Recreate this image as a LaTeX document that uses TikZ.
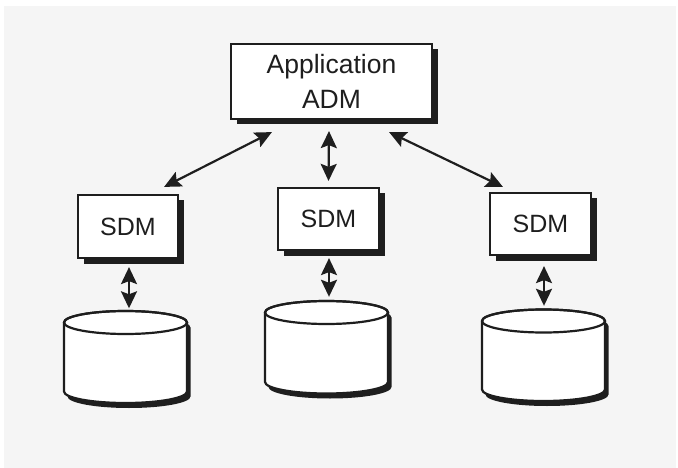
\documentclass[tikz,border=0pt]{standalone}
\usepackage{fontspec}
\setmainfont{Liberation Sans}
\usetikzlibrary{arrows.meta,shadows}
\definecolor{bggray}{HTML}{F5F5F5}
\definecolor{ink}{HTML}{1E1E1E}
\newcommand\dbshape[3]{%
  \fill[ink] ({#1-61.5+3.5},{#2+5}) -- ({#1-61.5+3.5},{#3+5})
    arc[start angle=180,end angle=0,x radius=61.5,y radius=11.5]
    -- ({#1+61.5+3.5},{#2+5})
    arc[start angle=0,end angle=-180,x radius=61.5,y radius=11.5] -- cycle;
  \filldraw[fill=white,draw=ink,line width=2.2pt] ({#1-61.5},#2) -- ({#1-61.5},#3)
    arc[start angle=180,end angle=0,x radius=61.5,y radius=11.5]
    -- ({#1+61.5},#2)
    arc[start angle=0,end angle=-180,x radius=61.5,y radius=11.5] -- cycle;
  \draw[ink,line width=2.2pt] (#1,#2) ellipse[x radius=61.5,y radius=11.5];
}
\tikzset{bigtip/.tip={Stealth[length=17pt,width=16pt,inset=3pt]}}
\begin{document}
\begin{tikzpicture}[x=1pt,y=-1pt,
  boxstyle/.style={draw=ink, line width=2.2pt, fill=white, inner sep=0pt,
    drop shadow={shadow xshift=5.5pt,shadow yshift=-5.5pt,opacity=1,fill=ink},
    font=\fontsize{25}{35}\selectfont, text=ink, align=center},
  sdmbox/.style={boxstyle, minimum width=100pt, minimum height=63pt},
  dbnode/.style={inner sep=0pt, minimum width=123pt},
  link/.style={draw=ink, fill=ink, line width=2.2pt, arrows={bigtip-bigtip}}]
\useasboundingbox (0,0) rectangle (678,468);
\fill[bggray] (4,6) rectangle (676,468);

\node[boxstyle, minimum width=201pt, minimum height=75pt,
      font=\fontsize{26.5}{35}\selectfont] (app) at (331.5,81.5) {Application\\ADM};
\node[sdmbox] (sdm1) at (128,226.5) {SDM};
\node[sdmbox, minimum width=101pt, minimum height=62pt] (sdm2) at (328.5,219) {SDM};
\node[sdmbox, minimum width=101pt, minimum height=62pt] (sdm3) at (540.5,224) {SDM};

\dbshape{125.5}{322.5}{391.5}
\dbshape{326.5}{312.5}{382}
\dbshape{543.5}{321}{389.5}
\node[dbnode, minimum height=91pt] (db1) at (125.5,357) {};
\node[dbnode, minimum height=92pt] (db2) at (326.5,347) {};
\node[dbnode, minimum height=92pt] (db3) at (543.5,355) {};

\draw[link] ([xshift=42pt,yshift=-12pt]app.south west) -- ([xshift=-15pt,yshift=7pt]sdm1.north east);
\draw[link] ([xshift=-2.5pt,yshift=-11pt]app.south) -- ([yshift=6pt]sdm2.north);
\draw[link] ([xshift=-44pt,yshift=-12pt]app.south east) -- ([xshift=14pt,yshift=5pt]sdm3.north west);

\draw[link, shorten >=3pt] ([xshift=1pt,yshift=-8pt]sdm1.south) -- ([xshift=1pt]sdm1.south |- db1.north);
\draw[link, shorten >=4pt] ([xshift=0.5pt,yshift=-7pt]sdm2.south) -- ([xshift=0.5pt]sdm2.south |- db2.north);
\draw[link, shorten >=3pt] ([xshift=3.5pt,yshift=-10pt]sdm3.south) -- ([xshift=3.5pt]sdm3.south |- db3.north);
\end{tikzpicture}
\end{document}
